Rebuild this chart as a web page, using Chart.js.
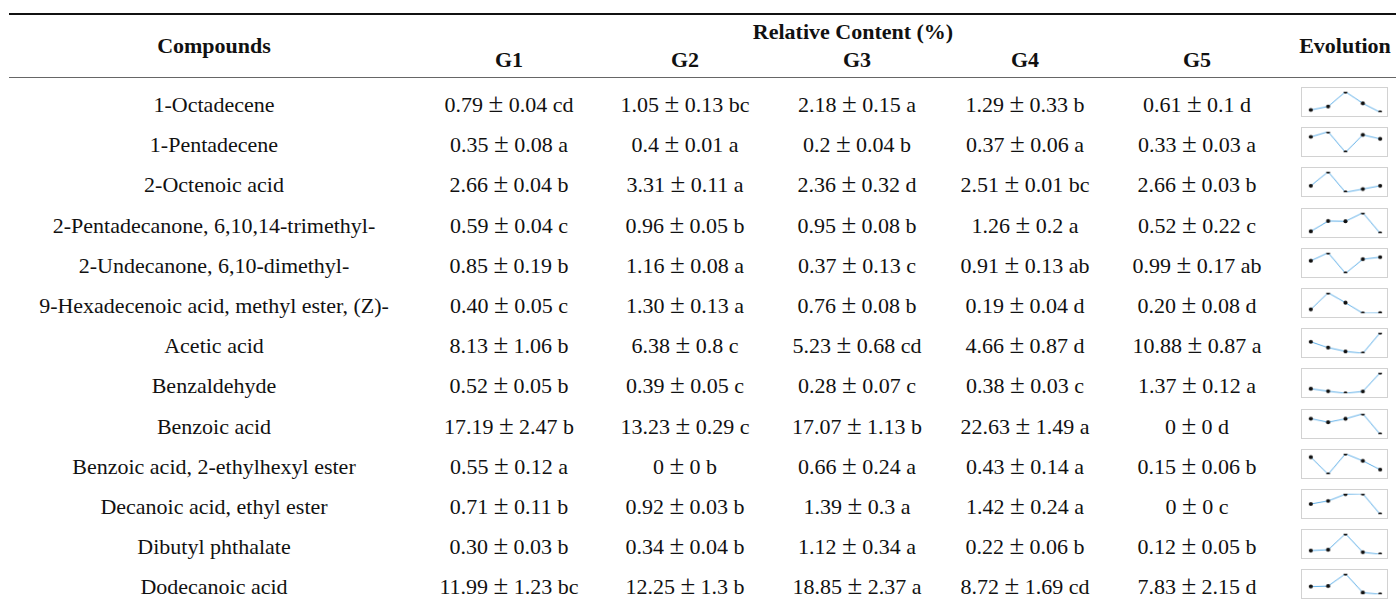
<!DOCTYPE html>
<html>
<head>
<meta charset="utf-8">
<script src="https://cdn.jsdelivr.net/npm/chart.js@4"></script>
<style>
	html, body { margin: 0; padding: 0; background: #fff; }
	body { width: 1396px; height: 610px; position: relative; overflow: hidden;
		font-family: "Liberation Serif", "DejaVu Serif", serif; color: #111; font-size: 22px; }
	.cell { position: absolute; white-space: nowrap; text-align: center; height: 40px; line-height: 40px; }
	.head { font-weight: bold; }
	.pm { font-size: 1.22em; line-height: 0; }
	.rule { position: absolute; left: 9px; right: 0; }
	.spark { position: absolute; box-sizing: border-box; border: 1.5px solid #d2d2d2; background: #fff; }
</style>
</head>
<body>
<div class="rule" style="top:13px;height:2px;background:#111;"></div>
<div class="rule" style="top:77px;height:1px;background:#666;"></div>
<div id="table"></div>
<script>
// Table content
const compounds = [
	"1-Octadecene",
	"1-Pentadecene",
	"2-Octenoic acid",
	"2-Pentadecanone, 6,10,14-trimethyl-",
	"2-Undecanone, 6,10-dimethyl-",
	"9-Hexadecenoic acid, methyl ester, (Z)-",
	"Acetic acid",
	"Benzaldehyde",
	"Benzoic acid",
	"Benzoic acid, 2-ethylhexyl ester",
	"Decanoic acid, ethyl ester",
	"Dibutyl phthalate",
	"Dodecanoic acid",
];
const groups = ["G1", "G2", "G3", "G4", "G5"];

const g1Mean = ["0.79", "0.35", "2.66", "0.59", "0.85", "0.40", "8.13", "0.52", "17.19", "0.55", "0.71", "0.30", "11.99"];
const g1Sd = ["0.04", "0.08", "0.04", "0.04", "0.19", "0.05", "1.06", "0.05", "2.47", "0.12", "0.11", "0.03", "1.23"];
const g1Sig = ["cd", "a", "b", "c", "b", "c", "b", "b", "b", "a", "b", "b", "bc"];

const g2Mean = ["1.05", "0.4", "3.31", "0.96", "1.16", "1.30", "6.38", "0.39", "13.23", "0", "0.92", "0.34", "12.25"];
const g2Sd = ["0.13", "0.01", "0.11", "0.05", "0.08", "0.13", "0.8", "0.05", "0.29", "0", "0.03", "0.04", "1.3"];
const g2Sig = ["bc", "a", "a", "b", "a", "a", "c", "c", "c", "b", "b", "b", "b"];

const g3Mean = ["2.18", "0.2", "2.36", "0.95", "0.37", "0.76", "5.23", "0.28", "17.07", "0.66", "1.39", "1.12", "18.85"];
const g3Sd = ["0.15", "0.04", "0.32", "0.08", "0.13", "0.08", "0.68", "0.07", "1.13", "0.24", "0.3", "0.34", "2.37"];
const g3Sig = ["a", "b", "d", "b", "c", "b", "cd", "c", "b", "a", "a", "a", "a"];

const g4Mean = ["1.29", "0.37", "2.51", "1.26", "0.91", "0.19", "4.66", "0.38", "22.63", "0.43", "1.42", "0.22", "8.72"];
const g4Sd = ["0.33", "0.06", "0.01", "0.2", "0.13", "0.04", "0.87", "0.03", "1.49", "0.14", "0.24", "0.06", "1.69"];
const g4Sig = ["b", "a", "bc", "a", "ab", "d", "d", "c", "a", "a", "a", "b", "cd"];

const g5Mean = ["0.61", "0.33", "2.66", "0.52", "0.99", "0.20", "10.88", "1.37", "0", "0.15", "0", "0.12", "7.83"];
const g5Sd = ["0.1", "0.03", "0.03", "0.22", "0.17", "0.08", "0.87", "0.12", "0", "0.06", "0", "0.05", "2.15"];
const g5Sig = ["d", "a", "b", "c", "ab", "d", "a", "a", "d", "b", "c", "b", "d"];

const means = [g1Mean, g2Mean, g3Mean, g4Mean, g5Mean];
const sds = [g1Sd, g2Sd, g3Sd, g4Sd, g5Sd];
const sigs = [g1Sig, g2Sig, g3Sig, g4Sig, g5Sig];

// Layout
const compoundX = 214;
const groupX = [509, 685, 857, 1025, 1197];
const evolutionX = 1345;
const firstRowY = 105;
const rowPitch = 40.2;

const table = document.getElementById("table");

function AddCell(parts, cx, cy, cls) {
	// parts: plain string, or [before, after] around a "±" sign
	const div = document.createElement("div");
	div.className = "cell " + (cls || "");
	if (typeof parts === "string") {
		div.textContent = parts;
	} else {
		div.appendChild(document.createTextNode(parts[0] + " "));
		const pm = document.createElement("span");
		pm.className = "pm";
		pm.textContent = "\u00b1";
		div.appendChild(pm);
		div.appendChild(document.createTextNode(" " + parts[1]));
	}
	div.style.width = "600px";
	div.style.left = (cx - 300) + "px";
	div.style.top = (cy - 20) + "px";
	table.appendChild(div);
}

// Header
AddCell("Compounds", compoundX, 46, "head");
AddCell("Relative Content (%)", (groupX[0] + groupX[4]) / 2, 32, "head");
groups.forEach((g, j) => AddCell(g, groupX[j], 60, "head"));
AddCell("Evolution", evolutionX, 46, "head");

// Body rows
compounds.forEach((name, i) => {
	const cy = firstRowY + i * rowPitch;
	AddCell(name, compoundX, cy);
	groups.forEach((g, j) => {
		AddCell([means[j][i], sds[j][i] + " " + sigs[j][i]], groupX[j], cy);
	});

	// Sparkline for this compound
	const values = means.map((m) => parseFloat(m[i]));
	const box = document.createElement("canvas");
	box.className = "spark";
	box.width = 87;
	box.height = 30;
	box.style.left = "1301px";
	box.style.top = Math.round(cy - 18) + "px";
	box.style.width = "87px";
	box.style.height = "30px";
	table.appendChild(box);

	new Chart(box.getContext("2d"), {
		type: "line",
		data: {
			labels: groups,
			datasets: [
				{
					data: values,
					borderColor: "#58abe6",
					borderWidth: 1,
					tension: 0,
					pointRadius: 2.1,
					pointBackgroundColor: "#111",
					pointBorderWidth: 0,
				},
			],
		},
		options: {
			responsive: false,
			animation: false,
			events: [],
			layout: { padding: { left: 9, right: 7, top: 3, bottom: 2 } },
			scales: {
				x: { display: false },
				y: { display: false, min: Math.min(...values), max: Math.max(...values) },
			},
			plugins: { legend: { display: false }, tooltip: { enabled: false } },
		},
	});
});
</script>
</body>
</html>
